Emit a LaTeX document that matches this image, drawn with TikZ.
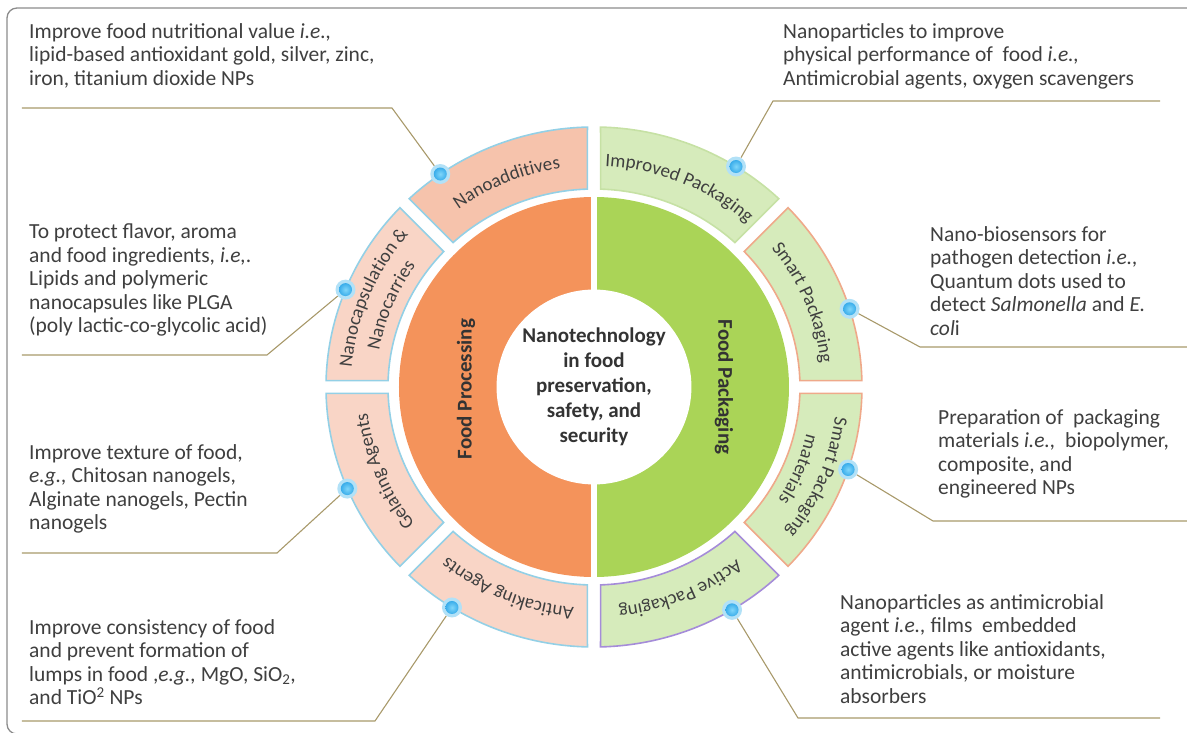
\documentclass[tikz,border=0pt]{standalone}
\usepackage{fontspec}
\setmainfont{Carlito}
\usetikzlibrary{decorations.text}

\definecolor{procorange}{HTML}{F4935B}
\definecolor{packgreen}{HTML}{AAD457}
\definecolor{pinkfill}{HTML}{F9D5C6}
\definecolor{pinkdark}{HTML}{F6C3AC}
\definecolor{greenfill}{HTML}{D6EBBB}
\definecolor{skyline}{HTML}{93D0E6}
\definecolor{paleline}{HTML}{C6E1A4}
\definecolor{salmonline}{HTML}{EFA98A}
\definecolor{violetline}{HTML}{A58CD9}
\definecolor{linkline}{HTML}{A8996A}
\definecolor{halo}{HTML}{B2E1F7}
\definecolor{dotcore}{HTML}{1597E2}
\definecolor{dotshine}{HTML}{7FD6FA}
\definecolor{labtxt}{HTML}{3F3F3F}
\definecolor{hubtxt}{HTML}{333333}
\definecolor{framegray}{HTML}{8C8C8C}

\newcommand{\segfont}{\fontsize{19}{22}\selectfont\color{labtxt}}

\tikzset{
    % one band of the outer ring, from angle #1 down to angle #2
    ringseg/.style 2 args={
        insert path={
            (#1-1.4:268 and 260)
            arc[start angle=#1-1.4, end angle=#2+1.4, x radius=268, y radius=260]
            -- (#2+1.85:206 and 198)
            arc[start angle=#2+1.85, end angle=#1-1.85, x radius=206, y radius=198]
            -- cycle
        }
    },
    seglabel/.style={
        decorate,
        decoration={text along path, text align=center, text={|\segfont|#1}}
    },
    dot/.style={
        circle, inner sep=0pt, minimum size=20pt, fill=halo,
        path picture={
            \shade[inner color=dotshine, outer color=dotcore]
                (path picture bounding box.center) circle (6.5pt);
        }
    },
    desc/.style={
        anchor=north west, align=left, inner sep=0pt,
        font=\fontsize{21.5}{23.5}\selectfont, text=labtxt
    },
    link/.style={draw=linkline, line width=1.1pt}
}

\begin{document}
\begin{tikzpicture}[
        x=1pt, y=1pt,
        hub/.style={
            circle, fill=white, minimum size=192pt, align=center,
            font=\bfseries\fontsize{21}{25}\selectfont, text=hubtxt
        },
        half/.style={font=\bfseries\fontsize{21}{24}\selectfont, text=hubtxt},
        pinkseg/.style={fill=pinkfill, draw=skyline, line width=1.6pt},
        greenseg/.style={fill=greenfill, line width=1.6pt}
    ]
    \useasboundingbox (-594,-346) rectangle (593,387);
    \draw[framegray, line width=1.3pt, rounded corners=10pt] (-587,-347) rectangle (610,379);

    % inner disk, split in two halves
    \fill[procorange] (90:195 and 190) arc[start angle=90, end angle=270, x radius=195, y radius=190] -- cycle;
    \fill[packgreen] (-90:195 and 190) arc[start angle=-90, end angle=90, x radius=195, y radius=190] -- cycle;
    \draw[white, line width=6pt] (0,200) -- (0,-200);
    \node[hub] (hub) at (0,0) {Nanotechnology\\in food\\preservation,\\safety, and\\security};
    \node[half, rotate=90] (proc) at (-128,-2) {Food Processing};
    \node[half, rotate=-90] (pack) at (130,0) {Food Packaging};

    % outer ring
    \draw[pinkseg, fill=pinkdark, ringseg={135}{90}];
    \draw[pinkseg, ringseg={180}{135}];
    \draw[pinkseg, ringseg={225}{180}];
    \draw[pinkseg, ringseg={270}{225}];
    \draw[greenseg, draw=paleline, ringseg={90}{45}];
    \draw[greenseg, draw=salmonline, ringseg={45}{0}];
    \draw[greenseg, draw=salmonline, ringseg={0}{-45}];
    \draw[greenseg, draw=violetline, ringseg={-45}{-90}];

    \path[seglabel={Nanoadditives}] (135:228 and 221) arc[start angle=135, end angle=90, x radius=228, y radius=221];
    \path[seglabel={Nanocapsulation {\&}}] (180:243 and 236) arc[start angle=180, end angle=135, x radius=243, y radius=236];
    \path[seglabel={Nanocarries}] (180:218 and 211) arc[start angle=180, end angle=135, x radius=218, y radius=211];
    \path[seglabel={Gelating Agents}] (225:228 and 221) arc[start angle=225, end angle=180, x radius=228, y radius=221];
    \path[seglabel={Anticaking Agents}] (270:228 and 221) arc[start angle=270, end angle=225, x radius=228, y radius=221];
    \path[seglabel={Improved Packaging}] (90:228 and 221) arc[start angle=90, end angle=45, x radius=228, y radius=221];
    \path[seglabel={Smart Packaging}] (45:228 and 221) arc[start angle=45, end angle=0, x radius=228, y radius=221];
    \path[seglabel={Smart Packaging}] (0:243 and 236) arc[start angle=0, end angle=-45, x radius=243, y radius=236];
    \path[seglabel={materials}] (0:218 and 211) arc[start angle=0, end angle=-45, x radius=218, y radius=211];
    \path[seglabel={Active Packaging}] (-45:228 and 221) arc[start angle=-45, end angle=-90, x radius=228, y radius=221];

    % dots on the ring
    \node[dot] (dNano) at (125:268 and 260) {};
    \node[dot] (dCaps) at (158:268 and 260) {};
    \node[dot] (dGel) at (203:268 and 260) {};
    \node[dot] (dAnti) at (238:268 and 260) {};
    \node[dot] (dImp) at (58:268 and 260) {};
    \node[dot] (dSmart) at (17.5:268 and 260) {};
    \node[dot] (dMat) at (-18.5:268 and 260) {};
    \node[dot] (dAct) at (-59:268 and 260) {};

    % bends and ends of the leader lines
    \coordinate (kNano) at (-202,279);  \coordinate (eNano) at (-572,279);
    \coordinate (kCaps) at (-327,32);   \coordinate (eCaps) at (-572,32);
    \coordinate (kGel) at (-317,-166);  \coordinate (eGel) at (-572,-166);
    \coordinate (kAnti) at (-219,-334); \coordinate (eAnti) at (-572,-334);
    \coordinate (kImp) at (179,286);    \coordinate (eImp) at (566,286);
    \coordinate (kSmart) at (326,40);   \coordinate (eSmart) at (593,40);
    \coordinate (kMat) at (339,-134);   \coordinate (eMat) at (593,-134);
    \coordinate (kAct) at (204,-331);   \coordinate (eAct) at (566,-331);

    \draw[link] (dNano) -- (kNano) -- (eNano);
    \draw[link] (dCaps) -- (kCaps) -- (eCaps);
    \draw[link] (dGel) -- (kGel) -- (eGel);
    \draw[link] (dAnti) -- (kAnti) -- (eAnti);
    \draw[link] (dImp) -- (kImp) -- (eImp);
    \draw[link] (dSmart) -- (kSmart) -- (eSmart);
    \draw[link] (dMat) -- (kMat) -- (eMat);
    \draw[link] (dAct) -- (kAct) -- (eAct);

    % descriptions
    \node[desc] (tNano) at (-565,364) {Improve food nutritional value \textit{i.e.,}\\lipid-based antioxidant gold, silver, zinc,\\iron, titanium dioxide NPs};
    \node[desc] (tCaps) at (-565,163) {To protect flavor, aroma\\and food ingredients, \textit{i.e,}.\\Lipids and polymeric\\nanocapsules like PLGA\\(poly lactic-co-glycolic acid)};
    \node[desc] (tGel) at (-565,-57) {Improve texture of food,\\\textit{e.g.,} Chitosan nanogels,\\Alginate nanogels, Pectin\\nanogels};
    \node[desc] (tAnti) at (-565,-232) {Improve consistency of food\\and prevent formation of\\lumps in food ,\textit{e.g.,} MgO, SiO\textsubscript{2},\\and TiO\textsuperscript{2} NPs};
    \node[desc] (tImp) at (189,364) {Nanoparticles to improve\\physical performance of~ food \textit{i.e.,}\\Antimicrobial agents, oxygen scavengers};
    \node[desc] (tSmart) at (336,161) {Nano-biosensors for\\pathogen detection \textit{i.e.,}\\Quantum dots used to\\detect \textit{Salmonella} and \textit{E.}\\\textit{col}i};
    \node[desc] (tMat) at (344,-22) {Preparation of~ packaging\\materials \textit{i.e.,}~ biopolymer,\\composite, and\\engineered NPs};
    \node[desc] (tAct) at (246,-207) {Nanoparticles as antimicrobial\\agent \textit{i.e.,} films~ embedded\\active agents like antioxidants,\\antimicrobials, or moisture\\absorbers};
\end{tikzpicture}
\end{document}
